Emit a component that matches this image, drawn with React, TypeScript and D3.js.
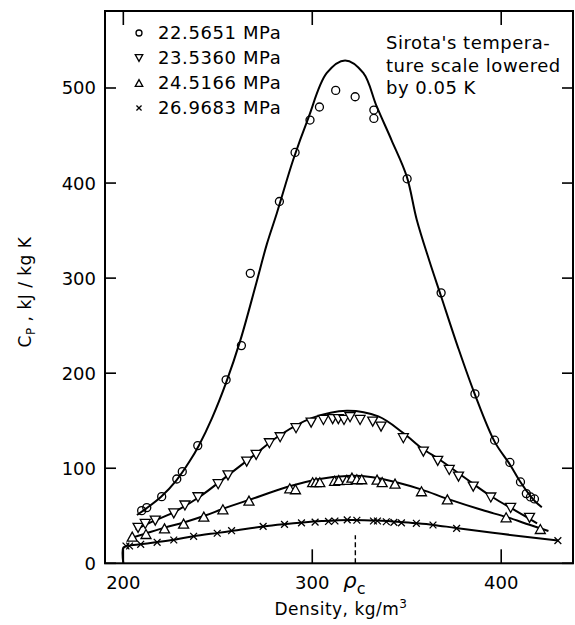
import React from "react";
import * as d3 from "d3";

// ---- data (density kg/m^3, Cp kJ/kg K) ----
const seriesA_points: [number, number][] = [
  [209.7, 55.4], [212.4, 58.6], [220.3, 70.1], [228.3, 88.7], [231.2, 96.4],
  [239.4, 123.8], [254.4, 193], [262.5, 229], [267.2, 305], [282.6, 380.6],
  [290.9, 432.2], [298.8, 466.3], [303.8, 480], [312.4, 497.5], [322.7, 490.8],
  [332.6, 476.8], [332.6, 468], [350.2, 404.5], [368.2, 284.5], [386.1, 178.2],
  [396.5, 129.5], [404.6, 106.1], [410.2, 85.6], [413.3, 73.3], [415.5, 69.8], [417.6, 67.7],
];
const seriesA_fit: [number, number][] = [
  [207.2, 50.8], [212, 57.5], [220, 70], [228, 87], [235, 107], [240, 124], [247, 153],
  [254.4, 190], [262, 235], [270, 292], [276, 336], [281.2, 368], [290, 425], [297.9, 468.4],
  [307.7, 515.8], [317.4, 529], [327, 515.8], [334.1, 480.6], [342, 445], [350, 407],
  [355.3, 361.4], [362, 318], [368, 282], [377, 228], [386, 178], [396.5, 128], [404.6, 104],
  [410, 86], [415, 72], [418, 65], [421.5, 59],
];

const seriesB_points: [number, number][] = [
  [207.8, 37.2], [211.6, 41.4], [216.9, 44.9], [226.7, 52.6], [232.6, 60.8], [239.5, 69.5],
  [250.2, 83.2], [255.4, 92.5], [265.3, 106.9], [270.3, 114], [277.3, 126.3], [283, 132.6],
  [291.4, 142.1], [299.4, 148], [305.9, 150.8], [310.8, 151.6], [313.8, 151.6], [316.8, 150.8],
  [320, 153.7], [325.3, 150.8], [332, 149], [336.4, 143.8], [348.2, 131.6], [358.8, 117.5],
  [366.4, 107.8], [372.5, 98.2], [377.4, 91.2], [385.2, 80.6], [394.5, 69.2], [405, 58.2], [415, 47.8],
];
const seriesB_fit: [number, number][] = [
  [206.5, 35.5], [215, 43.5], [226, 53], [240, 69.5], [255, 92], [270, 115], [283, 135],
  [300, 153], [318.3, 160.6], [335, 154.5], [348.2, 137], [358, 121], [367.7, 108.7],
  [380, 91], [395, 70], [408, 55], [419, 42],
];

const seriesC_points: [number, number][] = [
  [204.7, 28], [212, 30.8], [221.8, 36.8], [231.9, 41.8], [242.6, 49.1], [252.7, 56.8],
  [266.5, 65.9], [288.1, 78.9], [291.1, 77.9], [300.2, 85.3], [302, 85.3], [304, 85.3],
  [311.8, 86.8], [314, 87.5], [318.3, 87.7], [321, 90.1], [323.6, 88.4], [326.2, 88.4],
  [334.3, 88], [337, 85.4], [343.8, 83.8], [357.8, 75.8], [371.5, 67.3], [402.6, 48.4], [420.7, 36.1],
];
const seriesC_fit: [number, number][] = [
  [203, 26], [212, 31.5], [222, 37.5], [232, 43], [243, 50], [253, 57.5], [267, 67],
  [288, 81], [303, 88.5], [318.3, 91.9], [332, 90.5], [345, 85], [358, 77.5], [372, 67.5],
  [390, 56], [403, 48.5], [415, 40.5], [425, 34],
];

const seriesD_points: [number, number][] = [
  [201.4, 18.2], [203.3, 18.2], [209.2, 20], [217.9, 22.1], [226.7, 24.5], [237.2, 28.4],
  [249.7, 31.6], [257.3, 34.3], [274, 38.9], [285.3, 40.9], [294.3, 42.5], [301.5, 43.3],
  [308.6, 44], [312, 44.5], [318.5, 45.7], [323.6, 45.3], [332.4, 44.5], [334.5, 44.5],
  [339.2, 43.7], [343.2, 43.1], [347.2, 42.5], [355.1, 42.1], [363.9, 40.3], [376.4, 36.8], [430, 23.9],
];
const seriesD_fit: [number, number][] = [
  [200, 0], [200, 16.5], [202, 18.3], [210, 20.2], [218, 22.3], [227, 24.8], [237, 28.4],
  [250, 32], [258, 34.2], [274, 38.8], [285, 41.2], [295, 43], [305, 44.4], [320, 45.6],
  [335, 44.9], [345, 43.6], [355, 42.1], [364, 40.4], [376, 37.2], [400, 31], [430, 24],
];

const legendLabels = ["22.5651 MPa", "23.5360 MPa", "24.5166 MPa", "26.9683 MPa"];
const xTicks = [200, 300, 400];
const yTicks = [0, 100, 200, 300, 400, 500];
const rhoC = 322.8;
const noteLines = ["Sirota's tempera-", "ture scale lowered", "by 0.05 K"];

// ---- layout ----
const W = 575, H = 625;
const L = 105, R = 573, T = 11, B = 563.3;
const FONT = "'DejaVu Sans', sans-serif";

type Kind = "circle" | "down" | "up" | "cross";

function Marker({ kind, cx, cy, s = 1 }: { kind: Kind; cx: number; cy: number; s?: number }) {
  const sw = 1.3;
  if (kind === "circle") return <circle cx={cx} cy={cy} r={4 * s} fill="none" stroke="#000" strokeWidth={sw} />;
  if (kind === "down") {
    const w = 5 * s, h = 4.5 * s;
    return <path d={`M${cx - w},${cy - h}L${cx + w},${cy - h}L${cx},${cy + h}Z`} fill="#fff" stroke="#000" strokeWidth={sw} />;
  }
  if (kind === "up") {
    const w = 5 * s, h = 4.5 * s;
    return <path d={`M${cx - w},${cy + h}L${cx + w},${cy + h}L${cx},${cy - h}Z`} fill="#fff" stroke="#000" strokeWidth={sw} />;
  }
  const a = 3.4 * s;
  return <path d={`M${cx - a},${cy - a}L${cx + a},${cy + a}M${cx - a},${cy + a}L${cx + a},${cy - a}`} stroke="#000" strokeWidth={sw} />;
}

export default function App() {
  const x = d3.scaleLinear().domain([190.3, 438]).range([L, R]);
  const y = d3.scaleLinear().domain([0, 581]).range([B, T]);
  const ln = d3.line<[number, number]>().x((d) => x(d[0])).y((d) => y(d[1])).curve(d3.curveCatmullRom.alpha(0.5));

  const series: { pts: [number, number][]; fit: [number, number][]; kind: Kind }[] = [
    { pts: seriesA_points, fit: seriesA_fit, kind: "circle" },
    { pts: seriesB_points, fit: seriesB_fit, kind: "down" },
    { pts: seriesC_points, fit: seriesC_fit, kind: "up" },
    { pts: seriesD_points, fit: seriesD_fit, kind: "cross" },
  ];
  const legendKinds: Kind[] = ["circle", "down", "up", "cross"];

  return (
    <svg width={W} height={H} style={{ position: "absolute", left: 0, top: 0, background: "#fff" }} fontFamily={FONT}>
      <rect x={0} y={0} width={W} height={H} fill="#fff" />
      {series.map((s, i) => (
        <path key={"f" + i} d={ln(s.fit) || ""} fill="none" stroke="#000" strokeWidth={2} />
      ))}
      {series.map((s, i) =>
        s.pts.map((p, j) => <Marker key={`m${i}-${j}`} kind={s.kind} cx={x(p[0])} cy={y(p[1])} />)
      )}
      <rect x={L} y={T} width={R - L} height={B - T} fill="none" stroke="#000" strokeWidth={2} />
      {yTicks.map((t) => (
        <g key={"y" + t}>
          <line x1={L} x2={L + 11} y1={y(t)} y2={y(t)} stroke="#000" strokeWidth={1.6} />
          <line x1={R - 11} x2={R} y1={y(t)} y2={y(t)} stroke="#000" strokeWidth={1.6} />
          <text x={L - 9} y={y(t)} dy="0.36em" textAnchor="end" fontSize={18}>{t}</text>
        </g>
      ))}
      {xTicks.map((t) => (
        <g key={"x" + t}>
          <line x1={x(t)} x2={x(t)} y1={B} y2={B - 14} stroke="#000" strokeWidth={1.6} />
          <line x1={x(t)} x2={x(t)} y1={T} y2={T + 14} stroke="#000" strokeWidth={1.6} />
          <text x={x(t)} y={B + 26} textAnchor="middle" fontSize={18}>{t}</text>
        </g>
      ))}
      <line x1={x(rhoC)} x2={x(rhoC)} y1={B} y2={B - 28} stroke="#000" strokeWidth={1.4} strokeDasharray="5,3" />
      <text x={x(rhoC) - 12} y={B + 25} fontSize={21} fontStyle="italic">ρ<tspan fontSize={16} fontStyle="normal" dy={6}>c</tspan></text>
      <text x={(L + R) / 2 + 2} y={B + 52} textAnchor="middle" fontSize={17} letterSpacing={0.5}>
        Density, kg/m<tspan fontSize={12} dy={-7}>3</tspan>
      </text>
      <text transform={`translate(31,${292}) rotate(-90)`} textAnchor="middle" fontSize={17} letterSpacing={0.5}>
        C<tspan fontSize={12} dy={4}>P</tspan><tspan dy={-4}> ,  kJ / kg K</tspan>
      </text>
      {legendLabels.map((lab, i) => (
        <g key={"l" + i}>
          <Marker kind={legendKinds[i]} cx={139} cy={33 + i * 25} s={0.75} />
          <text x={158} y={33 + i * 25} dy="0.36em" fontSize={18} letterSpacing={0.6}>{lab}</text>
        </g>
      ))}
      {noteLines.map((t, i) => (
        <text key={"n" + i} x={386} y={43 + i * 22.5} dy="0.36em" fontSize={18} letterSpacing={0.5}>{t}</text>
      ))}
    </svg>
  );
}
